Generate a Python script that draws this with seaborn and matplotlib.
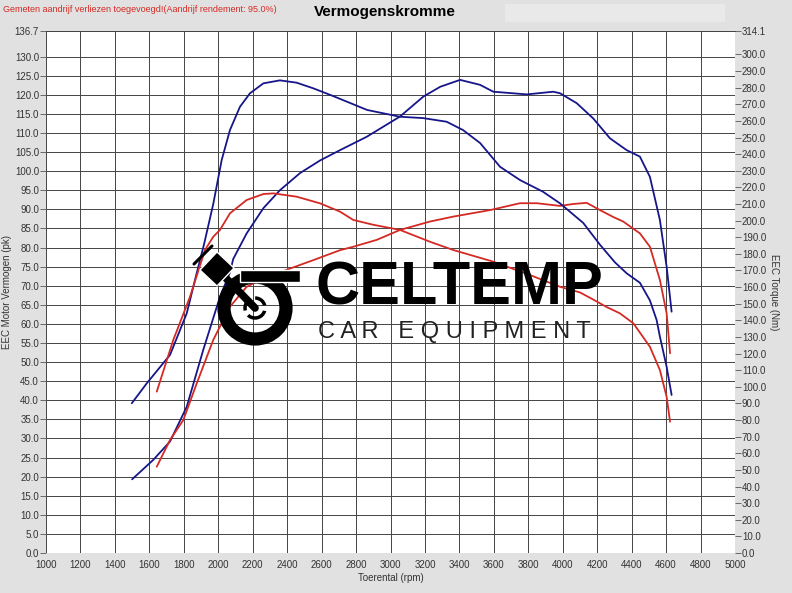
import matplotlib
matplotlib.use('Agg')
import matplotlib.pyplot as plt
import matplotlib.patches as mpatches
import seaborn as sns
import pandas as pd

# Blauw = meting 1, rood = meting 2
rpm_blauw_pk = [1500, 1623, 1720, 1817, 1913, 2010, 2068, 2087, 2165, 2262, 2358, 2475, 2591, 2707,
                2862, 3055, 3190, 3289, 3404, 3520, 3597, 3791, 3945, 3984, 4081, 4177, 4274, 4371,
                4448, 4506, 4564, 4603, 4632]
pk_blauw = [19.3, 24.4, 29.2, 38.3, 53.2, 67.1, 73.5, 77.0, 83.7, 90.3, 95.0, 99.5, 102.8, 105.5,
            109.0, 114.3, 119.5, 122.1, 123.9, 122.6, 120.8, 120.1, 120.8, 120.4, 117.8, 113.8,
            108.6, 105.5, 103.8, 98.5, 87.2, 75.0, 63.2]

rpm_blauw_nm = [1498, 1585, 1720, 1817, 1865, 1918, 1971, 2020, 2068, 2126, 2184, 2262, 2358, 2455,
                2552, 2666, 2864, 3055, 3189, 3326, 3421, 3520, 3636, 3752, 3885, 3984, 4119, 4216,
                4303, 4371, 4448, 4506, 4545, 4564, 4603, 4632]
nm_blauw = [90.1, 102.1, 119.2, 144.2, 164.3, 186.0, 210.0, 236.5, 254.5, 268.5, 276.6, 282.6, 284.4,
            283.0, 279.6, 275.0, 266.6, 262.5, 261.7, 259.5, 254.5, 246.7, 232.4, 224.4, 217.4,
            210.4, 198.6, 185.5, 174.9, 168.3, 162.6, 152.0, 140.2, 130.2, 112.1, 95.1]

rpm_rood_pk = [1643, 1720, 1797, 1875, 1971, 2068, 2165, 2242, 2339, 2436, 2552, 2707, 2784, 2920,
               3055, 3229, 3365, 3578, 3752, 3849, 3984, 4061, 4139, 4216, 4293, 4351, 4448, 4506,
               4564, 4603, 4623]
pk_rood = [22.6, 29.6, 34.8, 44.4, 55.8, 64.5, 69.7, 71.5, 73.2, 74.8, 76.7, 79.3, 80.2, 82.0,
           84.6, 86.8, 88.1, 89.8, 91.6, 91.6, 90.9, 91.4, 91.7, 89.8, 88.0, 86.8, 83.7, 80.2,
           71.5, 62.8, 52.3]

rpm_rood_nm = [1643, 1739, 1836, 1923, 1971, 2010, 2068, 2165, 2262, 2320, 2455, 2591, 2707, 2784,
               2900, 3055, 3229, 3365, 3597, 3809, 3984, 4100, 4177, 4255, 4332, 4410, 4506, 4564,
               4603, 4623]
nm_rood = [97.1, 128.2, 154.2, 182.3, 190.3, 194.4, 204.4, 212.4, 216.0, 216.4, 214.4, 210.4, 205.4,
           200.4, 197.5, 194.4, 187.3, 182.3, 175.3, 167.3, 160.2, 156.8, 152.5, 148.0, 144.2,
           138.2, 124.1, 110.1, 94.0, 79.0]

x_ticks = list(range(1000, 5001, 200))
pk_ticks = [i * 5.0 for i in range(27)] + [136.7]
nm_ticks = [i * 10.0 for i in range(31)] + [314.1]

BLAUW = '#16168a'
ROOD = '#d42a24'
GRID = '#444444'

sns.set_style('white')
plt.rcParams['font.family'] = ['Liberation Sans', 'DejaVu Sans']

fig = plt.figure(figsize=(7.92, 5.93), dpi=100, facecolor='#e1e1e1')
ax = fig.add_axes([46 / 792, 40 / 593, 689 / 792, 522 / 593])
ax.set_facecolor('white')
ax2 = ax.twinx()

df_pk_b = pd.DataFrame({'rpm': rpm_blauw_pk, 'pk': pk_blauw})
df_pk_r = pd.DataFrame({'rpm': rpm_rood_pk, 'pk': pk_rood})
df_nm_b = pd.DataFrame({'rpm': rpm_blauw_nm, 'nm': nm_blauw})
df_nm_r = pd.DataFrame({'rpm': rpm_rood_nm, 'nm': nm_rood})

kw = dict(lw=1.3, sort=False)
sns.lineplot(data=df_pk_b, x='rpm', y='pk', ax=ax, color=BLAUW, **kw)
sns.lineplot(data=df_pk_r, x='rpm', y='pk', ax=ax, color=ROOD, **kw)
sns.lineplot(data=df_nm_b, x='rpm', y='nm', ax=ax2, color=BLAUW, **kw)
sns.lineplot(data=df_nm_r, x='rpm', y='nm', ax=ax2, color=ROOD, **kw)

ax.set_xlim(1000, 5000)
ax.set_ylim(0, 136.7)
ax2.set_ylim(0, 314.1)

ax.set_xticks(x_ticks)
ax.set_xticklabels([str(t) for t in x_ticks], fontsize=7, color='#333333')
ax.set_yticks(pk_ticks)
ax.set_yticklabels([f'{t:.1f}' for t in pk_ticks], fontsize=7, color='#333333')
ax2.set_yticks(nm_ticks)
ax2.set_yticklabels([f'{t:.1f}' for t in nm_ticks], fontsize=7, color='#333333')

ax.grid(True, color=GRID, lw=0.7)
ax.set_axisbelow(True)
ax.tick_params(axis='both', direction='out', length=4, width=0.6, color='#555555', pad=1)
ax2.tick_params(axis='y', direction='out', length=4, width=0.6, color='#555555', pad=1)
for a in (ax, ax2):
    for s in a.spines.values():
        s.set_visible(False)
ax.spines['top'].set_visible(True)
ax.spines['top'].set_color(GRID)
ax.spines['top'].set_linewidth(0.7)

ax.set_xlabel('Toerental (rpm)', fontsize=7, color='#333333', labelpad=2)
ax.set_ylabel('EEC Motor Vermogen (pk)', fontsize=7, color='#333333', labelpad=2)
ax2.set_ylabel('EEC Torque (Nm)', fontsize=7, color='#333333', rotation=270, labelpad=9)

# kop
fig.text(3 / 792, 1 - 9 / 593, 'Gemeten aandrijf verliezen toegevoegd!(Aandrijf rendement: 95.0%)',
         fontsize=6.5, color=ROOD, va='center', ha='left')
fig.text(385 / 792, 1 - 12 / 593, 'Vermogenskromme', fontsize=11, fontweight='bold',
         color='black', va='center', ha='center')
fig.patches.append(mpatches.Rectangle((505 / 792, 1 - 22 / 593), 220 / 792, 18 / 593,
                                      transform=fig.transFigure, facecolor='#e9e9e9',
                                      edgecolor='none', zorder=0))


def px(x, y):
    return (x / 792, 1 - y / 593)


# watermerk logo
fig.text(*px(316, 289), 'CELTEMP', fontsize=44, fontweight='bold', color='black',
         va='center', ha='left', zorder=10)
fig.text(*px(318, 332), 'C A R   E Q U I P M E N T', fontsize=17, color='#222222',
         va='center', ha='left', zorder=10)
cx, cy = px(255, 308)
fig.patches.append(mpatches.Ellipse((cx, cy), 62 / 792, 62 / 593, transform=fig.transFigure,
                                    facecolor='none', edgecolor='black', lw=9.5, zorder=10))
fig.patches.append(mpatches.Rectangle(px(240, 282), 60 / 792, 12 / 593,
                                      transform=fig.transFigure, facecolor='black', zorder=10))
pc = px(218, 270)
fig.lines.append(plt.Line2D([pc[0], cx], [pc[1], cy], transform=fig.transFigure,
                            color='black', lw=5.5, zorder=10))
fig.patches.append(mpatches.Polygon([px(200, 270), px(217, 252), px(234, 268), px(217, 286)],
                                    closed=True, transform=fig.transFigure, facecolor='black',
                                    zorder=10))
fig.lines.append(plt.Line2D([194 / 792, 212 / 792], [1 - 264 / 593, 1 - 246 / 593],
                            transform=fig.transFigure, color='black', lw=2.2, zorder=10))
fig.patches.append(mpatches.Ellipse((cx, cy), 20 / 792, 20 / 593, transform=fig.transFigure,
                                    facecolor='none', edgecolor='black', lw=2.5, ls='--', zorder=10))

fig.savefig('out.png', dpi=100, facecolor=fig.get_facecolor())
